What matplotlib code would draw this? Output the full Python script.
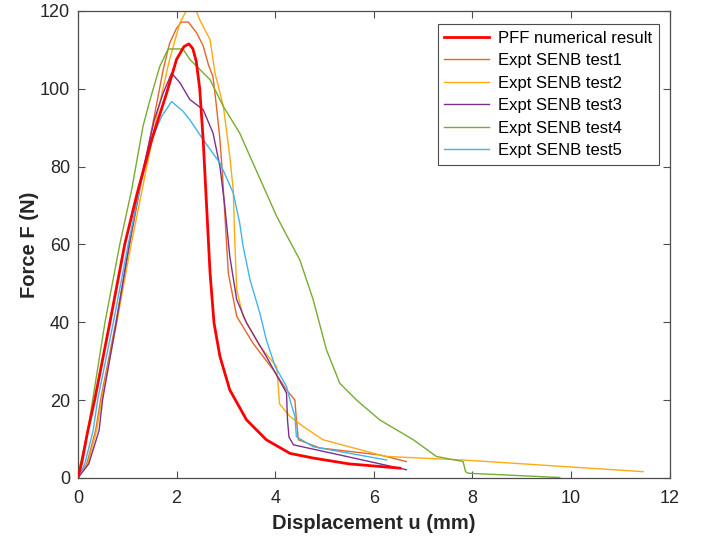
import matplotlib
matplotlib.use("Agg")
import matplotlib.pyplot as plt

plt.rcParams['font.family'] = ['Liberation Sans', 'DejaVu Sans']

# PFF numerical result
pff_x = [0, 0.08, 0.2, 0.34, 0.65, 0.95, 1.2, 1.5, 1.8, 2.0, 2.15, 2.25, 2.33, 2.4, 2.47, 2.54, 2.61, 2.68, 2.76, 2.88, 3.08, 3.42, 3.82, 4.3, 4.77, 5.5, 6.53]
pff_f = [0, 4, 12, 20, 40, 60, 73, 87, 98.9, 107.5, 110.8, 111.5, 110.3, 107, 100, 86.9, 69.7, 52.6, 39.8, 31.2, 22.6, 14.9, 9.8, 6.3, 5.1, 3.6, 2.5]

# Experimental tests
t1_x = [0, 0.18, 0.36, 0.46, 0.77, 1.05, 1.3, 1.55, 1.73, 1.86, 2.0, 2.1, 2.24, 2.41, 2.54, 2.65, 2.74, 2.81, 2.88, 2.93, 2.97, 3.05, 3.22, 3.55, 3.96, 4.23, 4.4, 4.43, 4.47, 4.9, 6.12, 6.66]
t1_f = [0, 3.6, 12.2, 20, 40, 60, 77, 93, 104.9, 111.7, 115.5, 117.1, 117.1, 114.3, 111, 106, 103, 95.4, 86.9, 78.3, 69.7, 52.6, 41.5, 34.6, 27.8, 22.6, 20, 15, 9.8, 7.7, 5.9, 4.2]

t2_x = [0, 0.2, 0.38, 0.48, 0.79, 1.08, 1.35, 1.6, 1.85, 2.07, 2.2, 2.4, 2.47, 2.68, 2.78, 2.95, 3.08, 3.15, 3.18, 3.22, 3.35, 3.69, 4.03, 4.09, 4.3, 4.57, 4.97, 6.12, 6.26, 7.81, 11.46]
t2_f = [0, 3.6, 12.2, 20, 40, 60, 77, 93, 107, 117, 120, 120, 117.7, 112.6, 104, 95.4, 82.6, 74, 61.2, 48.3, 41.5, 33.8, 28.6, 19, 15.8, 13.2, 9.8, 5.9, 5.5, 4.6, 1.6]

t3_x = [0, 0.22, 0.43, 0.5, 0.78, 1.04, 1.3, 1.55, 1.73, 1.9, 2.07, 2.27, 2.54, 2.74, 2.88, 2.98, 3.08, 3.22, 3.42, 3.82, 4.23, 4.25, 4.28, 4.37, 5.45, 6.66]
t3_f = [0, 3.6, 12.2, 20, 40, 60, 78, 92, 98.9, 104, 101.5, 97.2, 94.6, 88.6, 80, 69.7, 56.9, 45.8, 39.8, 31.2, 21.8, 14.9, 10.5, 8.5, 5.5, 2.1]

t4_x = [0, 0.05, 0.2, 0.3, 0.55, 0.85, 1.09, 1.32, 1.46, 1.66, 1.83, 2.13, 2.27, 2.68, 2.95, 3.28, 3.49, 3.76, 4.03, 4.28, 4.5, 4.77, 5.04, 5.31, 5.65, 6.12, 6.8, 7.27, 7.81, 7.86, 7.91, 9.77]
t4_f = [0, 3.6, 12.2, 20, 40, 60, 74, 90.3, 97, 105.7, 110.2, 110.2, 107.5, 102.3, 95.4, 88.6, 82.6, 74.9, 67.2, 61.2, 56, 45.8, 32.9, 24.3, 20, 14.9, 9.8, 5.5, 4.2, 1.6, 1.2, 0.1]

t5_x = [0, 0.14, 0.31, 0.4, 0.72, 1.02, 1.3, 1.5, 1.7, 1.9, 2.13, 2.27, 2.54, 2.88, 3.15, 3.28, 3.35, 3.49, 3.69, 3.82, 4.0, 4.23, 4.3, 4.4, 4.43, 4.77, 6.26]
t5_f = [0, 3.6, 12.2, 20, 40, 60, 77, 87, 92.9, 96.7, 94.2, 92, 86.9, 80.9, 73.2, 65.5, 59.5, 50.9, 42.3, 35.5, 28.6, 23.5, 20, 15.8, 10.6, 8.0, 4.6]

labels = ['PFF numerical result', 'Expt SENB test1', 'Expt SENB test2',
          'Expt SENB test3', 'Expt SENB test4', 'Expt SENB test5']
x_ticks = [0, 2, 4, 6, 8, 10, 12]
y_ticks = [0, 20, 40, 60, 80, 100, 120]

fig = plt.figure(figsize=(7.08, 5.40), dpi=100)
ax = fig.add_axes([0.110, 0.115, 0.836, 0.865])

ax.plot(t1_x, t1_f, color='#E5652B', lw=1.0, label=labels[1])
ax.plot(t2_x, t2_f, color='#FFAA10', lw=1.0, label=labels[2])
ax.plot(t3_x, t3_f, color='#7E2F8E', lw=1.0, label=labels[3])
ax.plot(t4_x, t4_f, color='#77AC30', lw=1.0, label=labels[4])
ax.plot(t5_x, t5_f, color='#3EB5EE', lw=1.0, label=labels[5])
ax.plot(pff_x, pff_f, color='#FF0000', lw=2.0, label=labels[0], zorder=5)

ax.set_xlim(0, 12)
ax.set_ylim(0, 120)
ax.set_xticks(x_ticks)
ax.set_yticks(y_ticks)
ax.tick_params(direction='in', top=True, right=True, length=5, width=0.8,
               color='#4d4d4d', labelsize=13, labelcolor='#262626')
ax.tick_params(axis='x', pad=8.5)
ax.tick_params(axis='y', pad=5.5)
for s in ax.spines.values():
    s.set_color('#4d4d4d')
    s.set_linewidth(0.9)

ax.set_xlabel('Displacement u (mm)', fontsize=14.5, fontweight='bold', color='#262626', labelpad=5)
ax.set_ylabel('Force F (N)', fontsize=14.5, fontweight='bold', color='#262626', labelpad=0.5)

h, l = ax.get_legend_handles_labels()
order = [5, 0, 1, 2, 3, 4]
leg = ax.legend([h[i] for i in order], [l[i] for i in order],
                loc='upper right', bbox_to_anchor=(0.981, 0.972),
                fontsize=12, frameon=True, fancybox=False, framealpha=1,
                edgecolor='#4d4d4d', handlelength=2.7, labelspacing=0.45,
                borderpad=0.4, handletextpad=0.5, borderaxespad=0)
leg.get_frame().set_linewidth(0.8)

fig.savefig('out.png', dpi=100)
